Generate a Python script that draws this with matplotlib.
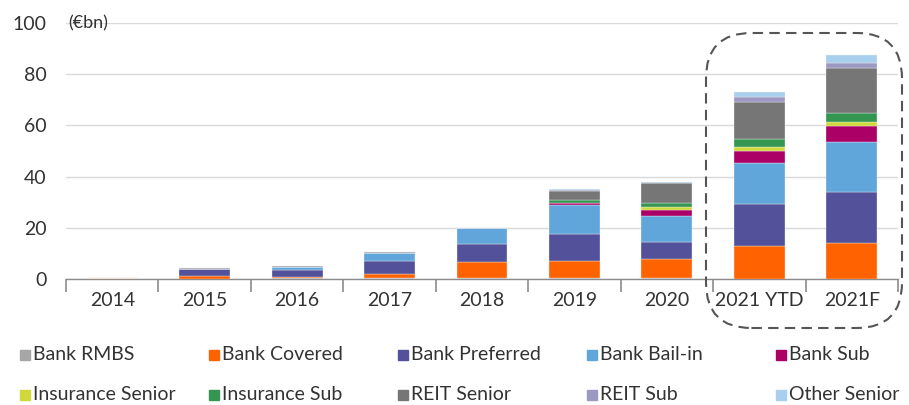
import numpy as np
import matplotlib.pyplot as plt
from matplotlib.patches import Rectangle, FancyBboxPatch

plt.rcParams['font.family'] = ['Lato', 'DejaVu Sans']

years = ['2014', '2015', '2016', '2017', '2018', '2019', '2020', '2021 YTD', '2021F']

bank_rmbs = [0.0, 0.0, 0.4, 0.3, 0.4, 0.4, 0.3, 0.0, 0.0]
bank_covered = [0.4, 1.3, 0.5, 1.5, 6.1, 6.8, 7.7, 13.0, 13.9]
bank_preferred = [0.0, 2.6, 2.8, 5.3, 7.1, 10.3, 6.5, 16.4, 19.9]
bank_bailin = [0.0, 0.0, 1.0, 2.9, 6.3, 11.3, 10.0, 15.9, 19.9]
bank_sub = [0.0, 0.0, 0.0, 0.0, 0.0, 0.9, 2.5, 4.6, 5.9]
ins_senior = [0.0, 0.0, 0.0, 0.0, 0.0, 0.0, 1.0, 1.7, 1.6]
ins_sub = [0.0, 0.0, 0.0, 0.0, 0.0, 1.3, 1.8, 3.0, 3.6]
reit_senior = [0.0, 0.4, 0.3, 0.6, 0.0, 3.3, 7.7, 14.7, 17.7]
reit_sub = [0.0, 0.0, 0.0, 0.0, 0.0, 0.3, 0.0, 1.6, 2.0]
other_senior = [0.0, 0.0, 0.0, 0.0, 0.0, 0.6, 0.3, 2.3, 3.1]

series = [
    ('Bank RMBS', bank_rmbs, '#a6a6a6'),
    ('Bank Covered', bank_covered, '#ff6200'),
    ('Bank Preferred', bank_preferred, '#525199'),
    ('Bank Bail-in', bank_bailin, '#60a6da'),
    ('Bank Sub', bank_sub, '#ab0066'),
    ('Insurance Senior', ins_senior, '#d0d93c'),
    ('Insurance Sub', ins_sub, '#349651'),
    ('REIT Senior', reit_senior, '#767676'),
    ('REIT Sub', reit_sub, '#9b98c2'),
    ('Other Senior', other_senior, '#a8cfed'),
]

W, H = 909, 405
fig = plt.figure(figsize=(W / 100, H / 100), dpi=100)
ax = fig.add_axes([66 / W, (H - 279) / H, 832 / W, 256 / H])

x = np.arange(len(years))
bottom = np.zeros(len(years))
for name, vals, col in series:
    vals = np.array(vals)
    ax.bar(x, vals, 0.55, bottom=bottom, color=col, edgecolor='#f4f4f4', linewidth=0.25, zorder=3)
    bottom += vals

ax.set_xlim(-0.5, len(years) - 0.5)
ax.set_ylim(0, 100)
ax.set_yticks(range(0, 101, 20))
ax.grid(axis='y', color='#d9d9d9', linewidth=1, zorder=0)
for s in ['top', 'right', 'left']:
    ax.spines[s].set_visible(False)
ax.spines['bottom'].set_color('#8c8c8c')
ax.spines['bottom'].set_linewidth(1.0)
ax.spines['bottom'].set_zorder(2)

ax.set_xticks(x)
ax.set_xticklabels(years)
ax.set_xticks(np.arange(-0.5, len(years), 1), minor=True)
ax.tick_params(axis='x', which='major', length=0, pad=9, labelsize=14, labelcolor='#333333')
ax.tick_params(axis='x', which='minor', length=9, width=1.2, color='#8c8c8c')
ax.tick_params(axis='y', length=0, pad=14, labelsize=14, labelcolor='#333333')

ax.text(0.003, 100, '(€bn)', transform=ax.get_yaxis_transform(), ha='left', va='center',
        fontsize=13, color='#333333')

# dashed box around the 2021 bars
box = FancyBboxPatch((706 / W, (H - 328) / H), 196 / W, 295 / H,
                     boxstyle='round,pad=0,rounding_size=0.05',
                     transform=fig.transFigure, fill=False, edgecolor='#555555',
                     linewidth=1.5, linestyle=(0, (5, 3)), mutation_aspect=W / H)
fig.patches.append(box)

# legend
for i, (name, vals, col) in enumerate(series):
    cx = 20 + (i % 5) * 189
    cy = 355 if i < 5 else 395
    fig.patches.append(Rectangle((cx / W, (H - cy - 5) / H), 10 / W, 10 / H,
                                 transform=fig.transFigure, color=col))
    fig.text((cx + 13) / W, (H - cy) / H, name, ha='left', va='center',
             fontsize=14, color='#333333')

fig.savefig('out.png', dpi=100)
